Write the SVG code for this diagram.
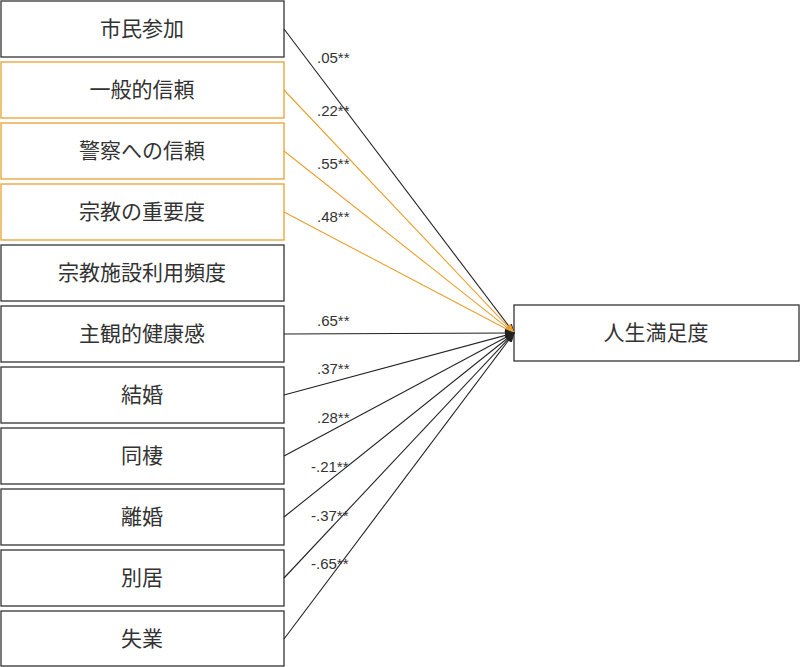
<svg xmlns="http://www.w3.org/2000/svg" width="800" height="667" viewBox="0 0 800 667">
<style>
.b{fill:#fff;stroke:#333;stroke-width:1.3}
.o{stroke:#E8A030}
.t{font-family:"Noto Sans CJK JP","Noto Sans",sans-serif;font-size:21px;fill:#333;text-anchor:middle;dominant-baseline:central}
.l{font-family:"Liberation Sans",Arial,sans-serif;font-size:15px;fill:#333}
.c{stroke:#222;stroke-width:1.1;fill:none}
.co{stroke:#E8A030;stroke-width:1.1;fill:none}
</style>
<defs>
<marker id="a" markerWidth="10" markerHeight="8" refX="9" refY="4" orient="auto" markerUnits="userSpaceOnUse"><path d="M0,0L10,4L0,8z" fill="#222"/></marker>
<marker id="ao" markerWidth="10" markerHeight="8" refX="9" refY="4" orient="auto" markerUnits="userSpaceOnUse"><path d="M0,0L10,4L0,8z" fill="#E8A030"/></marker>
</defs>
<g id="n1"><rect class="b" x="1" y="1" width="283" height="56"/><text class="t" x="142" y="27">市民参加</text></g>
<g id="n2"><rect class="b o" x="1" y="62" width="283" height="56"/><text class="t" x="142" y="88">一般的信頼</text></g>
<g id="n3"><rect class="b o" x="1" y="123" width="283" height="56"/><text class="t" x="142" y="149">警察への信頼</text></g>
<g id="n4"><rect class="b o" x="1" y="184" width="283" height="56"/><text class="t" x="142" y="210">宗教の重要度</text></g>
<g id="n5"><rect class="b" x="1" y="245" width="283" height="56"/><text class="t" x="142" y="271">宗教施設利用頻度</text></g>
<g id="n6"><rect class="b" x="1" y="306" width="283" height="56"/><text class="t" x="142" y="332">主観的健康感</text></g>
<g id="n7"><rect class="b" x="1" y="367" width="283" height="56"/><text class="t" x="142" y="393">結婚</text></g>
<g id="n8"><rect class="b" x="1" y="428" width="283" height="56"/><text class="t" x="142" y="454">同棲</text></g>
<g id="n9"><rect class="b" x="1" y="489" width="283" height="56"/><text class="t" x="142" y="515">離婚</text></g>
<g id="n10"><rect class="b" x="1" y="550" width="283" height="56"/><text class="t" x="142" y="576">別居</text></g>
<g id="n11"><rect class="b" x="1" y="611" width="283" height="55"/><text class="t" x="142" y="637">失業</text></g>
<g id="n12"><rect class="b" x="514" y="305" width="285" height="56"/><text class="t" x="656" y="331">人生満足度</text></g>
<g id="connectors">
<path class="c" d="M284,29L514,333" marker-end="url(#a)"/>
<path class="co" d="M284,90L514,333" marker-end="url(#ao)"/>
<path class="co" d="M284,151L514,333" marker-end="url(#ao)"/>
<path class="co" d="M284,212L514,333" marker-end="url(#ao)"/>
<path class="c" d="M284,334L514,333" marker-end="url(#a)"/>
<path class="c" d="M284,395L514,333" marker-end="url(#a)"/>
<path class="c" d="M284,456L514,333" marker-end="url(#a)"/>
<path class="c" d="M284,517L514,333" marker-end="url(#a)"/>
<path class="c" d="M284,578L514,333" marker-end="url(#a)"/>
<path class="c" d="M284,639L514,333" marker-end="url(#a)"/>
<text class="l" x="317" y="63">.05**</text>
<text class="l" x="317" y="116">.22**</text>
<text class="l" x="317" y="169">.55**</text>
<text class="l" x="317" y="222">.48**</text>
<text class="l" x="317" y="326">.65**</text>
<text class="l" x="317" y="374">.37**</text>
<text class="l" x="317" y="423">.28**</text>
<text class="l" x="311" y="472">-.21**</text>
<text class="l" x="311" y="521">-.37**</text>
<text class="l" x="311" y="569">-.65**</text>
</g>
</svg>
